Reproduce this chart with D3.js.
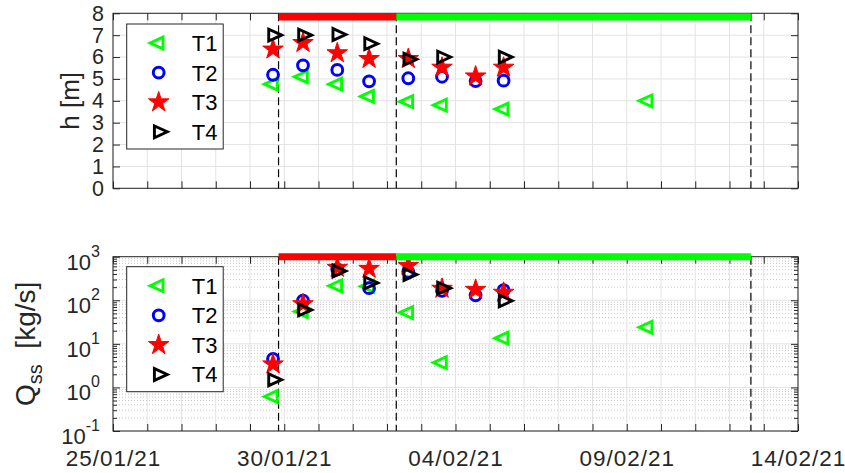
<!DOCTYPE html>
<html><head><meta charset="utf-8">
<script src="https://cdn.jsdelivr.net/npm/d3@7"></script>
<style>
body{margin:0;background:#fff}
svg{display:block;font-family:"Liberation Sans",Arial,Helvetica,sans-serif}
</style>
</head><body>
<svg id="chart" width="845" height="473"></svg>
<script>
// ---------------- DATA ----------------
const seriesNames = ["T1", "T2", "T3", "T4"];

// measurement times for each station
const t1Times = ["2021-01-29T16:08Z","2021-01-30T13:08Z","2021-01-31T13:10Z","2021-02-01T11:27Z","2021-02-02T14:55Z","2021-02-03T14:33Z","2021-02-05T09:42Z","2021-02-09T14:37Z"];
const t2Times = ["2021-01-29T16:08Z","2021-01-30T13:08Z","2021-01-31T13:10Z","2021-02-01T11:27Z","2021-02-02T14:55Z","2021-02-03T14:33Z","2021-02-04T14:05Z","2021-02-05T09:42Z"];
const t3Times = ["2021-01-29T16:08Z","2021-01-30T13:08Z","2021-01-31T13:10Z","2021-02-01T11:27Z","2021-02-02T14:55Z","2021-02-03T14:33Z","2021-02-04T14:05Z","2021-02-05T09:42Z"];
const t4Times = ["2021-01-29T16:08Z","2021-01-30T13:08Z","2021-01-31T13:10Z","2021-02-01T11:27Z","2021-02-02T14:55Z","2021-02-03T14:33Z","2021-02-05T09:42Z"];

// water depth h [m]
const t1H = [4.76, 5.10, 4.76, 4.20, 3.96, 3.80, 3.62, 4.00];
const t2H = [5.19, 5.62, 5.41, 4.89, 5.03, 5.10, 4.90, 4.92];
const t3H = [6.35, 6.65, 6.18, 5.92, 5.92, 5.52, 5.12, 5.52];
const t4H = [7.00, 7.00, 7.03, 6.61, 5.90, 6.00, 6.00];

// suspended sediment flux Qss [kg/s]
const t1Q = [0.62, 55, 215, 210, 52, 3.7, 13.5, 24];
const t2Q = [4.5, 98, 510, 190, 450, 165, 130, 170];
const t3Q = [3.4, 82, 560, 530, 620, 185, 175, 150];
const t4Q = [1.5, 60, 470, 250, 390, 190, 97];

// event phases (bars at top) and boundaries (dashed lines)
const phaseStarts = ["2021-01-29T20:00Z", "2021-02-02T06:30Z"];
const phaseEnds   = ["2021-02-02T06:30Z", "2021-02-12T15:00Z"];
const phaseNames  = ["rising", "falling"];
const boundaryTimes = ["2021-01-29T20:00Z", "2021-02-02T06:30Z", "2021-02-12T15:00Z"];
const phaseLevelH = 7.83;
const phaseLevelQ = 1000;

// axes
const xDomain = ["2021-01-25T00:00Z", "2021-02-14T00:00Z"];
const xTickLabelDates = ["2021-01-25T00:00Z","2021-01-30T00:00Z","2021-02-04T00:00Z","2021-02-09T00:00Z","2021-02-14T00:00Z"];
const hTicks = [0,1,2,3,4,5,6,7,8];
const qTicks = [0.1, 1, 10, 100, 1000];
const qExponents = ["-1","0","1","2","3"];

// ---------------- DRAWING ----------------
const P = d => new Date(d);
const svg = d3.select("#chart");
const X0 = 113, X1 = 798;
const topP = {y0: 13.3, y1: 188.3};
const botP = {y0: 256.7, y1: 431};
const axisColor = "#262626";

const x = d3.scaleUtc().domain(xDomain.map(P)).range([X0, X1]);
const yH = d3.scaleLinear().domain([0, 8]).range([topP.y1, topP.y0]);
const yQ = d3.scaleLog().domain([0.1, 1000]).range([botP.y1, botP.y0]);

const dayTicks = d3.utcDay.range(P(xDomain[0]), d3.utcDay.offset(P(xDomain[1]), 1));
const colors = {T1: "#00ff00", T2: "#0000ff", T3: "#ff0000", T4: "#000000"};
const phaseColors = {rising: "#ff0000", falling: "#00ff00"};
const minorQ = [];
for (let e = -1; e < 3; e++) for (let m = 2; m <= 9; m++) minorQ.push(m * Math.pow(10, e));

// marker shapes
function starPath(R) {
  const r = R * 0.382, pts = [];
  for (let i = 0; i < 10; i++) {
    const a = -Math.PI / 2 + i * Math.PI / 5, rr = i % 2 ? r : R;
    pts.push([rr * Math.cos(a), rr * Math.sin(a)]);
  }
  return "M" + pts.map(p => p[0].toFixed(2) + "," + p[1].toFixed(2)).join("L") + "Z";
}
const shapes = {
  T1: {d: "M-8.6,0L4.3,-5.9L4.3,5.9Z", fill: "none", sw: 2.9},
  T2: {circle: 5.4, fill: "none", sw: 3},
  T3: {d: starPath(10.8), fill: "#ff0000", sw: 1},
  T4: {d: "M8.6,0L-4.3,-5.9L-4.3,5.9Z", fill: "none", sw: 2.9}
};
function drawMarker(g, name, cx, cy) {
  const s = shapes[name], c = colors[name];
  if (s.circle) {
    g.append("circle").attr("cx", cx).attr("cy", cy).attr("r", s.circle)
      .attr("fill", "none").attr("stroke", c).attr("stroke-width", s.sw);
  } else {
    g.append("path").attr("d", s.d).attr("transform", `translate(${cx},${cy})`)
      .attr("fill", s.fill).attr("stroke", c).attr("stroke-width", s.sw)
      .attr("stroke-linejoin", "miter");
  }
}

function panel(y, p, isLog) {
  const g = svg.append("g");
  g.append("rect").attr("x", X0).attr("y", p.y0).attr("width", X1 - X0).attr("height", p.y1 - p.y0).attr("fill", "#fff");
  if (isLog) {
    g.append("g").selectAll("line").data(minorQ).join("line")
      .attr("x1", X0).attr("x2", X1).attr("y1", d => yQ(d)).attr("y2", d => yQ(d))
      .attr("stroke", "#c8c8c8").attr("stroke-width", 1).attr("stroke-dasharray", "1,2");
  }
  g.append("g").selectAll("line").data(dayTicks).join("line")
    .attr("x1", d => x(d)).attr("x2", d => x(d)).attr("y1", p.y0).attr("y2", p.y1)
    .attr("stroke", "#e3e3e3").attr("stroke-width", 1);
  const yt = isLog ? qTicks : hTicks;
  g.append("g").selectAll("line").data(yt).join("line")
    .attr("x1", X0).attr("x2", X1).attr("y1", d => y(d)).attr("y2", d => y(d))
    .attr("stroke", "#e3e3e3").attr("stroke-width", 1);
  return g;
}

function axes(y, p, isLog) {
  const g = svg.append("g");
  const tick = (sel) => { sel.select(".domain").remove(); sel.selectAll("line").attr("stroke", axisColor); };
  g.append("g").attr("transform", `translate(0,${p.y1})`)
    .call(d3.axisBottom(x).tickValues(dayTicks).tickSize(-7).tickSizeOuter(0).tickFormat("")).call(tick);
  g.append("g").attr("transform", `translate(0,${p.y0})`)
    .call(d3.axisTop(x).tickValues(dayTicks).tickSize(-7).tickSizeOuter(0).tickFormat("")).call(tick);
  const yt = isLog ? qTicks : hTicks;
  g.append("g").attr("transform", `translate(${X0},0)`)
    .call(d3.axisLeft(y).tickValues(yt).tickSize(-7).tickSizeOuter(0).tickFormat("")).call(tick);
  g.append("g").attr("transform", `translate(${X1},0)`)
    .call(d3.axisRight(y).tickValues(yt).tickSize(-7).tickSizeOuter(0).tickFormat("")).call(tick);
  if (isLog) {
    g.append("g").attr("transform", `translate(${X0},0)`)
      .call(d3.axisLeft(y).tickValues(minorQ).tickSize(-4).tickSizeOuter(0).tickFormat("")).call(tick);
    g.append("g").attr("transform", `translate(${X1},0)`)
      .call(d3.axisRight(y).tickValues(minorQ).tickSize(-4).tickSizeOuter(0).tickFormat("")).call(tick);
  }
  g.append("rect").attr("x", X0).attr("y", p.y0).attr("width", X1 - X0).attr("height", p.y1 - p.y0)
    .attr("fill", "none").attr("stroke", axisColor).attr("stroke-width", 1);
}

function dashed(p) {
  const g = svg.append("g");
  g.selectAll("line").data(boundaryTimes).join("line")
    .attr("x1", d => x(P(d))).attr("x2", d => x(P(d))).attr("y1", p.y0).attr("y2", p.y1)
    .attr("stroke", "#000").attr("stroke-width", 1.2).attr("stroke-dasharray", "8,4");
}
function bars(y, level) {
  const g = svg.append("g");
  phaseStarts.forEach((s, i) => {
    g.append("line").attr("x1", x(P(s))).attr("x2", x(P(phaseEnds[i])))
      .attr("y1", y(level)).attr("y2", y(level))
      .attr("stroke", phaseColors[phaseNames[i]]).attr("stroke-width", 7);
  });
}

function points(y, vals) {
  const g = svg.append("g");
  const times = [t1Times, t2Times, t3Times, t4Times];
  seriesNames.forEach((n, i) => {
    vals[i].forEach((v, j) => drawMarker(g, n, x(P(times[i][j])), y(v)));
  });
}

function legend(bx, by) {
  const g = svg.append("g");
  g.append("rect").attr("x", bx).attr("y", by).attr("width", 96.5).attr("height", 125)
    .attr("fill", "#fff").attr("stroke", axisColor).attr("stroke-width", 1);
  seriesNames.forEach((n, i) => {
    const cy = by + 19 + i * 29.6;
    drawMarker(g, n, bx + 32, cy);
    g.append("text").attr("x", bx + 65).attr("y", cy).attr("dy", "0.36em")
      .attr("font-size", 22).attr("fill", "#000").text(n);
  });
}

// top panel
panel(yH, topP, false);
dashed(topP);
points(yH, [t1H, t2H, t3H, t4H]);
axes(yH, topP, false);
bars(yH, phaseLevelH);
legend(126.7, 24);

// bottom panel
panel(yQ, botP, true);
dashed(botP);
points(yQ, [t1Q, t2Q, t3Q, t4Q]);
axes(yQ, botP, true);
bars(yQ, phaseLevelQ);
legend(126.7, 266.7);

// top y tick labels
svg.append("g").attr("transform", `translate(${X0},0)`)
  .call(d3.axisLeft(yH).tickValues(hTicks).tickSize(0).tickPadding(9).tickFormat(d3.format("d")))
  .call(s => { s.select(".domain").remove(); s.selectAll("text").attr("font-size", 21.5).attr("fill", axisColor).attr("font-family", null); });

// bottom y tick labels (10^n)
const ql = svg.append("g");
qTicks.forEach((v, i) => {
  const t = ql.append("text").attr("x", 100).attr("y", yQ(v) + 13).attr("text-anchor", "end")
    .attr("font-size", 22).attr("fill", axisColor);
  t.append("tspan").text("10");
  t.append("tspan").attr("dy", -13).attr("font-size", 16).text(qExponents[i]);
});

// x tick labels
svg.append("g").attr("transform", `translate(0,${botP.y1})`)
  .call(d3.axisBottom(x).tickValues(xTickLabelDates.map(P)).tickSize(0).tickPadding(19).tickFormat(d3.utcFormat("%d/%m/%y")))
  .call(s => { s.select(".domain").remove(); s.selectAll("text").attr("font-size", 22.5).attr("letter-spacing", 1).attr("fill", axisColor).attr("font-family", null); });

// y labels
svg.append("text").attr("transform", `translate(79,${(topP.y0 + topP.y1) / 2}) rotate(-90)`)
  .attr("text-anchor", "middle").attr("font-size", 26).attr("fill", axisColor).text("h [m]");
const ql2 = svg.append("text").attr("transform", `translate(35,${(botP.y0 + botP.y1) / 2}) rotate(-90)`)
  .attr("text-anchor", "middle").attr("font-size", 28).attr("fill", axisColor);
ql2.append("tspan").text("Q");
ql2.append("tspan").attr("dy", 7).attr("font-size", 20).text("ss");
ql2.append("tspan").attr("dy", -7).text("\u00a0\u00a0[kg/s]");
</script>
</body></html>
